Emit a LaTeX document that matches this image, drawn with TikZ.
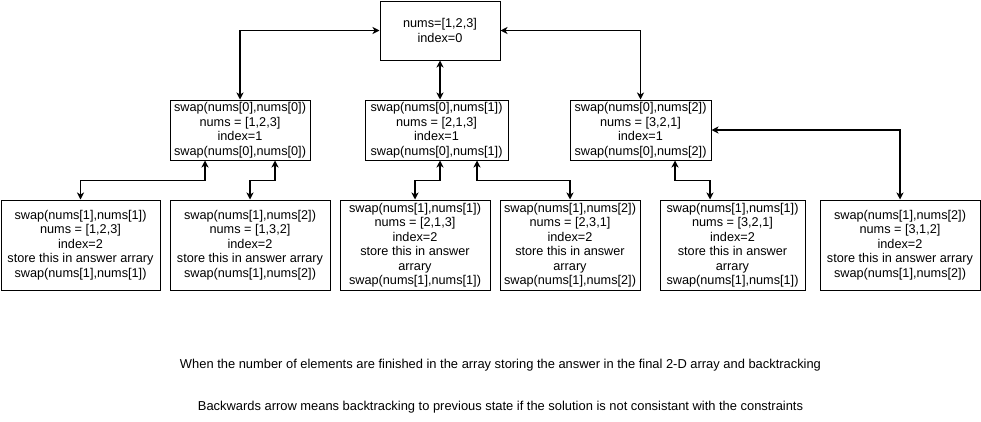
\documentclass[tikz,border=0pt]{standalone}
\usepackage{fontspec}
\setmainfont{Liberation Sans}
\usetikzlibrary{arrows.meta}
\begin{document}
\begin{tikzpicture}[x=1pt,y=-1pt,
  box/.style={draw, line width=1pt, align=center, inner sep=0pt,
    font=\fontsize{12.7}{14.5}\selectfont},
  arr/.style={line width=1.2pt, {Stealth[length=7pt,width=7pt,inset=2pt]}-{Stealth[length=7pt,width=7pt,inset=2pt]}},
  note/.style={font=\fontsize{12.9}{14}\selectfont, inner sep=0pt}]
\useasboundingbox[fill=white] (0,0) rectangle (981,421);
% root
\node[box, minimum width=120pt, minimum height=59pt] (root) at (440,30.5) {nums=[1,2,3]\\index=0};
% level 1
\node[box, minimum width=140pt, minimum height=60pt] (a) at (240,130)
  {swap(nums[0],nums[0])\\nums = [1,2,3]\\index=1\\swap(nums[0],nums[0])};
\node[box, minimum width=143pt, minimum height=60pt] (b) at (436.5,130)
  {swap(nums[0],nums[1])\\nums = [2,1,3]\\index=1\\swap(nums[0],nums[1])};
\node[box, minimum width=141pt, minimum height=60pt] (c) at (640.5,130)
  {swap(nums[0],nums[2])\\nums = [3,2,1]\\index=1\\swap(nums[0],nums[2])};
% level 2
\node[box, minimum width=159pt, minimum height=90pt] (a1) at (80.5,245)
  {swap(nums[1],nums[1])\\nums = [1,2,3]\\index=2\\store this in answer arrary\\swap(nums[1],nums[1])};
\node[box, minimum width=160pt, minimum height=90pt] (a2) at (250,245)
  {swap(nums[1],nums[2])\\nums = [1,3,2]\\index=2\\store this in answer arrary\\swap(nums[1],nums[2])};
\node[box, minimum width=150pt, minimum height=90pt] (b1) at (415,245)
  {swap(nums[1],nums[1])\\nums = [2,1,3]\\index=2\\store this in answer\\arrary\\swap(nums[1],nums[1])};
\node[box, minimum width=140pt, minimum height=90pt] (b2) at (570,245)
  {swap(nums[1],nums[2])\\nums = [2,3,1]\\index=2\\store this in answer\\arrary\\swap(nums[1],nums[2])};
\node[box, minimum width=145pt, minimum height=90pt] (c1) at (732.5,245)
  {swap(nums[1],nums[1])\\nums = [3,2,1]\\index=2\\store this in answer\\arrary\\swap(nums[1],nums[1])};
\node[box, minimum width=160pt, minimum height=90pt] (c2) at (900,245)
  {swap(nums[1],nums[2])\\nums = [3,1,2]\\index=2\\store this in answer arrary\\swap(nums[1],nums[2])};
% notes
\node[note] (t1) at (500.5,365) {When the number of elements are finished in the array storing the answer in the final 2-D array and backtracking};
\node[note] (t2) at (500.5,407) {Backwards arrow means backtracking to previous state if the solution is not consistant with the constraints};
% connectors
\draw[arr] (root.west) -| (a.north);
\draw[arr] (root.south) -- (root.south |- b.north);
\draw[arr] (root.east) -| (c.north);
\draw[arr] ([xshift=-35pt]a.south) -- ++(0,20) -| (a1.north);
\draw[arr] ([xshift=35pt]a.south) -- ++(0,20) -| (a2.north);
\draw[arr] ([xshift=3.5pt]b.south) -- ++(0,20) -| (b1.north);
\draw[arr] ([xshift=40.5pt]b.south) -- ++(0,20) -| (b2.north);
\draw[arr] ([xshift=34.5pt]c.south) -- ++(0,20) -| ([xshift=-22.5pt]c1.north);
\draw[arr] (c.east) -| (c2.north);
\end{tikzpicture}
\end{document}
